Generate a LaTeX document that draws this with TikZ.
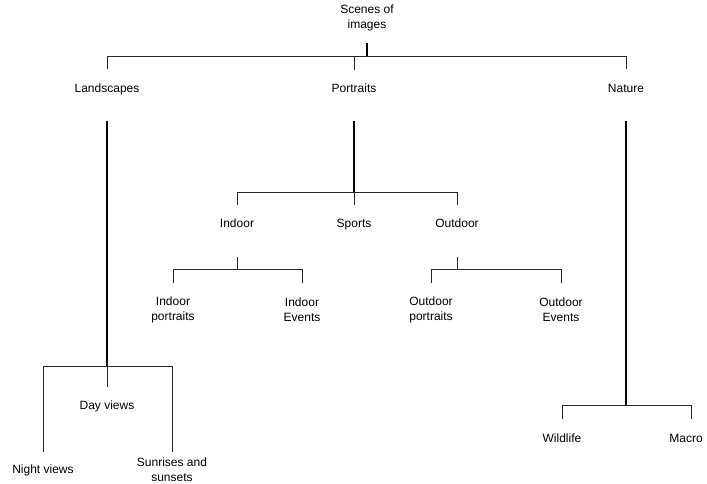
\documentclass[tikz,border=0pt]{standalone}
\usepackage{fontspec}
\setmainfont{Liberation Sans}
\begin{document}
\begin{tikzpicture}[x=0.75pt,y=-0.75pt,
  lbl/.style={inner sep=0pt,align=center,font=\fontsize{9pt}{11.25pt}\selectfont},
  one/.style={lbl,text height=0.72em,text depth=0.21em},
  thinl/.style={line width=0.75pt,draw=black!85},
  heavy/.style={line width=1.5pt,draw=black}]
\useasboundingbox (0,0) rectangle (707,484);

% labels
\node[lbl] (root)    at (367,17.5) {Scenes of\\images};
\node[one] (land)    at (107,89)   {Landscapes};
\node[one] (port)    at (354,89)   {Portraits};
\node[one] (nat)     at (626,89)   {Nature};
\node[one] (day)     at (107,406.5){Day views};
\node[one] (night)   at (43,470.5) {Night views};
\node[lbl] (sun)     at (172,470)  {Sunrises and\\sunsets};
\node[one] (indoor)  at (237,224)  {Indoor};
\node[one] (sports)  at (354,224)  {Sports};
\node[one] (outdoor) at (457,224)  {Outdoor};
\node[lbl] (inp)     at (173,309.5){Indoor\\portraits};
\node[lbl] (ine)     at (302,309.5){Indoor\\Events};
\node[lbl] (outp)    at (431,309.5){Outdoor\\portraits};
\node[lbl] (oute)    at (561,309.5){Outdoor\\Events};
\node[one] (wild)    at (562,439)  {Wildlife};
\node[one] (macro)   at (686,439)  {Macro};
\coordinate (macrodrop) at (691,406);

% root level
\draw[heavy] (root |- 0,43) -- (root |- 0,57);
\draw[thinl] (land |- 0,69) -- (land |- 0,57) -- (nat |- 0,57) -- (nat |- 0,69);
\draw[thinl] (port |- 0,57) -- (port |- 0,70);

% landscapes
\draw[heavy] (land |- 0,121) -- (land |- 0,367);
\draw[thinl] (night |- 0,452) -- (night |- 0,367) -- (sun |- 0,367) -- (sun |- 0,452);
\draw[thinl] (day |- 0,367) -- (day |- 0,387);

% portraits
\draw[heavy] (port |- 0,121) -- (port |- 0,193);
\draw[thinl] (indoor |- 0,205) -- (indoor |- 0,193) -- (outdoor |- 0,193) -- (outdoor |- 0,205);
\draw[thinl] (sports |- 0,193) -- (sports |- 0,205);

% indoor
\draw[thinl] (indoor |- 0,257) -- (indoor |- 0,270);
\draw[thinl] (inp |- 0,283) -- (inp |- 0,270) -- (ine |- 0,270) -- (ine |- 0,283);

% outdoor
\draw[thinl] (outdoor |- 0,257) -- (outdoor |- 0,270);
\draw[thinl] (outp |- 0,283) -- (outp |- 0,270) -- (oute |- 0,270) -- (oute |- 0,283);

% nature
\draw[heavy] (nat |- 0,121) -- (nat |- 0,406);
\draw[thinl] (wild |- 0,419) -- (wild |- 0,406) -- (macrodrop) -- (macrodrop |- 0,419);
\end{tikzpicture}
\end{document}
